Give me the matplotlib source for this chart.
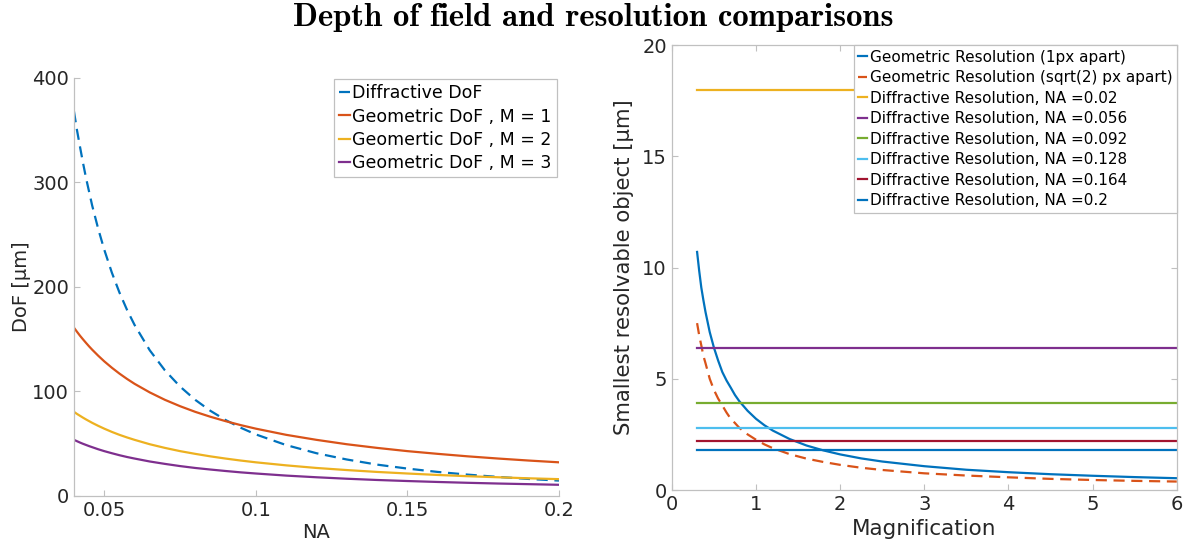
import matplotlib.pyplot as plt
import numpy as np

# numerical aperture samples for the depth-of-field panel
na = [0.04, 0.041, 0.042, 0.043, 0.044, 0.045, 0.046, 0.048, 0.05, 0.0525,
      0.055, 0.0575, 0.06, 0.065, 0.07, 0.075, 0.08, 0.085, 0.09, 0.095, 0.1,
      0.11, 0.12, 0.13, 0.14, 0.15, 0.16, 0.17, 0.18, 0.19, 0.2]
dof_diffractive = [368, 350, 334, 318.5, 304, 291, 278, 255.6, 235.6, 213.7,
                   194.7, 178.1, 163.6, 139.4, 120.2, 104.7, 92.0, 81.5, 72.7,
                   65.3, 58.9, 48.7, 40.9, 34.9, 30.0, 26.2, 23.0, 20.4, 18.2,
                   16.3, 14.7]
dof_geom_m1 = [161, 157.1, 153.3, 149.8, 146.4, 143.1, 140.0, 134.2, 128.8,
               122.7, 117.1, 112.0, 107.3, 99.1, 92.0, 85.9, 80.5, 75.8, 71.6,
               67.8, 64.4, 58.5, 53.7, 49.5, 46.0, 42.9, 40.3, 37.9, 35.8, 33.9,
               32.2]
dof_geom_m2 = [80.5, 78.5, 76.7, 74.9, 73.2, 71.6, 70.0, 67.1, 64.4, 61.3, 58.5,
               56.0, 53.7, 49.5, 46.0, 42.9, 40.3, 37.9, 35.8, 33.9, 32.2, 29.3,
               26.8, 24.8, 23.0, 21.5, 20.1, 18.9, 17.9, 16.9, 16.1]
dof_geom_m3 = [53.7, 52.4, 51.1, 49.9, 48.8, 47.7, 46.7, 44.7, 42.9, 40.9, 39.0,
               37.3, 35.8, 33.0, 30.7, 28.6, 26.8, 25.3, 23.9, 22.6, 21.5, 19.5,
               17.9, 16.5, 15.3, 14.3, 13.4, 12.6, 11.9, 11.3, 10.7]
dof_labels = ['Diffractive DoF', 'Geometric DoF , M = 1',
              'Geomertic DoF , M = 2', 'Geometric DoF , M = 3']

# magnification samples for the resolution panel
mag = [0.3, 0.325, 0.35, 0.375, 0.4, 0.45, 0.5, 0.55, 0.6, 0.65, 0.7, 0.75,
       0.8, 0.9, 1.0, 1.1, 1.2, 1.4, 1.6, 1.8, 2.0, 2.25, 2.5, 3.0, 3.5, 4.0,
       4.5, 5.0, 5.5, 6.0]
res_geom_1px = [10.7, 9.85, 9.1, 8.53, 8.0, 7.1, 6.4, 5.82, 5.3, 4.92, 4.6,
                4.27, 4.0, 3.56, 3.2, 2.91, 2.67, 2.29, 2.0, 1.78, 1.6, 1.42,
                1.28, 1.07, 0.91, 0.8, 0.71, 0.64, 0.58, 0.53]
res_geom_sqrt2 = [7.5, 6.95, 6.5, 6.03, 5.7, 5.0, 4.5, 4.11, 3.8, 3.48, 3.2,
                  3.01, 2.8, 2.5, 2.26, 2.05, 1.88, 1.61, 1.41, 1.26, 1.13, 1.0,
                  0.9, 0.75, 0.65, 0.57, 0.50, 0.45, 0.41, 0.38]
na_list = ['0.02', '0.056', '0.092', '0.128', '0.164', '0.2']
res_diffractive = [18.0, 6.4, 3.9, 2.8, 2.2, 1.8]

c_blue = '#0072BD'
c_orange = '#D95319'
c_yellow = '#EDB120'
c_purple = '#7E2F8E'
c_green = '#77AC30'
c_cyan = '#4DBEEE'
c_red = '#A2142F'
diff_colors = [c_yellow, c_purple, c_green, c_cyan, c_red, c_blue]

txt = '#262626'
spine = '#c0c0c0'

plt.rcParams['font.family'] = 'DejaVu Sans'

fig = plt.figure(figsize=(11.87, 5.43), dpi=100)
ax1 = fig.add_axes([0.0623, 0.0866, 0.4086, 0.770])
ax2 = fig.add_axes([0.566, 0.0976, 0.4254, 0.8195])

lw = 1.6
dash = (0, (5, 3))
ax1.plot(na, dof_diffractive, color=c_blue, lw=lw, ls=dash, label=dof_labels[0])
ax1.plot(na, dof_geom_m1, color=c_orange, lw=lw, label=dof_labels[1])
ax1.plot(na, dof_geom_m2, color=c_yellow, lw=lw, label=dof_labels[2])
ax1.plot(na, dof_geom_m3, color=c_purple, lw=lw, label=dof_labels[3])

ax1.set_xlim(0.04, 0.2)
ax1.set_ylim(0, 400)
ax1.set_xticks([0.05, 0.1, 0.15, 0.2])
ax1.set_xticklabels(['0.05', '0.1', '0.15', '0.2'])
ax1.set_yticks([0, 100, 200, 300, 400])
ax1.set_xlabel('NA', fontsize=14, color=txt, labelpad=2)
ax1.set_ylabel('DoF [µm]', fontsize=14, color=txt, labelpad=1)
for s in ['top', 'right']:
    ax1.spines[s].set_visible(False)

ax2.plot(mag, res_geom_1px, color=c_blue, lw=lw, label='Geometric Resolution (1px apart)')
ax2.plot(mag, res_geom_sqrt2, color=c_orange, lw=lw, ls=dash,
         label='Geometric Resolution (sqrt(2) px apart)')
for val, lab, col in zip(res_diffractive, na_list, diff_colors):
    ax2.plot([mag[0], mag[-1]], [val, val], color=col, lw=lw,
             label='Diffractive Resolution, NA =' + lab)

ax2.set_xlim(0, 6)
ax2.set_ylim(0, 20)
ax2.set_xticks(np.arange(0, 7))
ax2.set_yticks([0, 5, 10, 15, 20])
ax2.set_xlabel('Magnification', fontsize=15.5, color=txt, labelpad=4)
ax2.set_ylabel('Smallest resolvable object [µm]', fontsize=15.3, color=txt, labelpad=6)
ax2.tick_params(top=True, right=True)

for ax in (ax1, ax2):
    ax.tick_params(direction='in', length=4, width=0.8, color=spine,
                   labelsize=14, labelcolor=txt)
    for s in ax.spines.values():
        s.set_color(spine)
        s.set_linewidth(0.9)

leg1 = ax1.legend(loc='upper right', bbox_to_anchor=(0.996, 0.997), fontsize=12.5,
                  handlelength=0.6, handletextpad=0.15, labelspacing=0.3,
                  borderaxespad=0, borderpad=0.3, fancybox=False, framealpha=1)
leg2 = ax2.legend(loc='upper right', bbox_to_anchor=(1.0, 1.0), fontsize=11,
                  handlelength=0.6, handletextpad=0.15, labelspacing=0.36,
                  borderaxespad=0, borderpad=0.3, fancybox=False, framealpha=1)
for leg in (leg1, leg2):
    leg.get_frame().set_edgecolor(spine)
    leg.get_frame().set_linewidth(0.9)
    for t in leg.get_texts():
        t.set_color('black')

fig.suptitle('Depth of field and resolution comparisons', fontfamily='cmb10',
             fontsize=23.5, y=0.995, va='top')

fig.savefig('out.png', dpi=100)
